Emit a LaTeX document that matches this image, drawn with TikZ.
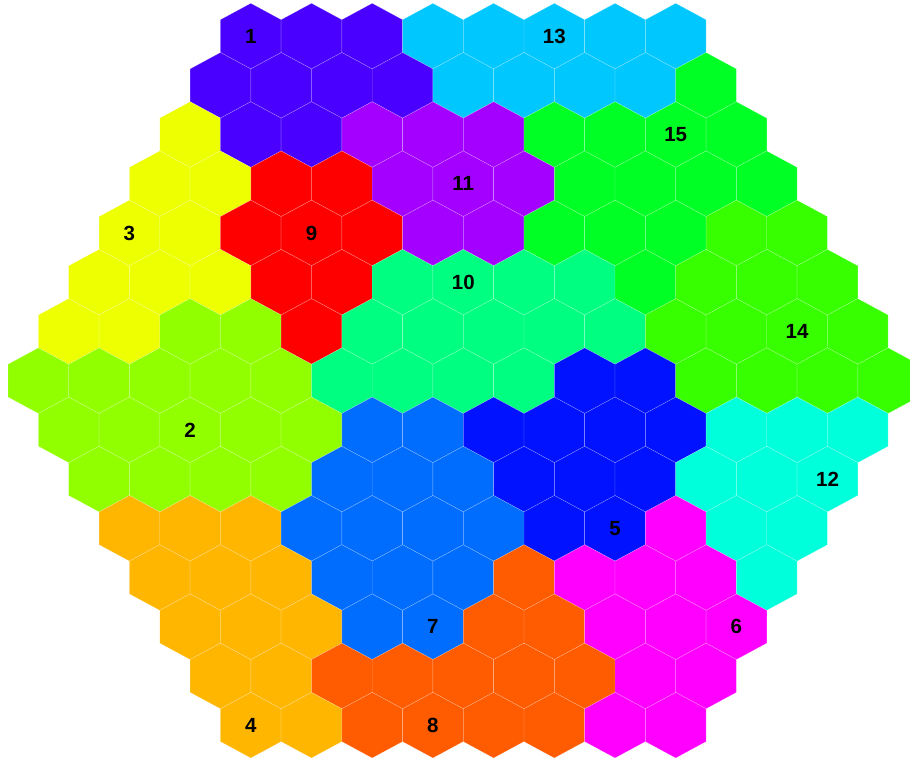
\documentclass[tikz,border=0pt]{standalone}
\usepackage{fontspec}
\setmainfont{Liberation Sans}
\definecolor{zone1}{HTML}{4900FF}
\definecolor{zone2}{HTML}{92FF00}
\definecolor{zone3}{HTML}{EDFF00}
\definecolor{zone4}{HTML}{FFB600}
\definecolor{zone5}{HTML}{0012FF}
\definecolor{zone6}{HTML}{FF00FF}
\definecolor{zone7}{HTML}{006DFF}
\definecolor{zone8}{HTML}{FF5B00}
\definecolor{zone9}{HTML}{FF0000}
\definecolor{zone10}{HTML}{00FF80}
\definecolor{zone11}{HTML}{A400FF}
\definecolor{zone12}{HTML}{00FFDB}
\definecolor{zone13}{HTML}{00C8FF}
\definecolor{zone14}{HTML}{37FF00}
\definecolor{zone15}{HTML}{00FF24}
\tikzset{
  cell/.style={draw=white, draw opacity=0.35, line width=0.4pt},
  zonelabel/.style={font=\fontsize{20.5}{24}\selectfont\bfseries, text=black, inner sep=0pt}
}
\begin{document}
\begin{tikzpicture}[x=1pt, y=-1pt]
\useasboundingbox (0,0) rectangle (910,760);
% hex cells, row by row
\foreach \row/\first/\zones in {
  0/7/{1,1,1,13,13,13,13,13},
  1/6/{1,1,1,1,13,13,13,13,15},
  2/5/{3,1,1,11,11,11,15,15,15,15},
  3/4/{3,3,9,9,11,11,11,15,15,15,15},
  4/3/{3,3,9,9,9,11,11,15,15,15,14,14},
  5/2/{3,3,3,9,9,10,10,10,10,15,14,14,14},
  6/1/{3,3,2,2,9,10,10,10,10,10,14,14,14,14},
  7/0/{2,2,2,2,2,10,10,10,10,5,5,14,14,14,14},
  8/1/{2,2,2,2,2,7,7,5,5,5,5,12,12,12},
  9/2/{2,2,2,2,7,7,7,5,5,5,12,12,12},
  10/3/{4,4,4,7,7,7,7,5,5,6,12,12},
  11/4/{4,4,4,7,7,7,8,6,6,6,12},
  12/5/{4,4,4,7,7,8,8,6,6,6},
  13/6/{4,4,8,8,8,8,8,6,6},
  14/7/{4,4,8,8,8,8,6,6}}{
  \foreach \z [count=\i from 0] in \zones {
    \pgfmathsetmacro{\cx}{38.35+30.35*(\first+2*\i)}
    \pgfmathsetmacro{\cy}{36.1+49.22*\row}
    \path[cell, fill=zone\z] (\cx,\cy) ++(0,-32.8) -- ++(30.35,16.4) -- ++(0,32.8)
      -- ++(-30.35,16.4) -- ++(-30.35,-16.4) -- ++(0,-32.8) -- cycle;
  }
}
% zone numbers
\node[zonelabel] (lab1) at (250.8,36.1) {1};
\node[zonelabel] (lab13) at (554.3,36.1) {13};
\node[zonelabel] (lab15) at (675.7,134.5) {15};
\node[zonelabel] (lab11) at (463.3,183.8) {11};
\node[zonelabel] (lab3) at (129.4,233.0) {3};
\node[zonelabel] (lab9) at (311.5,233.0) {9};
\node[zonelabel] (lab10) at (463.3,282.2) {10};
\node[zonelabel] (lab14) at (797.1,331.4) {14};
\node[zonelabel] (lab2) at (190.1,429.9) {2};
\node[zonelabel] (lab12) at (827.5,479.1) {12};
\node[zonelabel] (lab5) at (615.0,528.3) {5};
\node[zonelabel] (lab7) at (432.9,626.7) {7};
\node[zonelabel] (lab6) at (736.4,626.7) {6};
\node[zonelabel] (lab4) at (250.8,725.2) {4};
\node[zonelabel] (lab8) at (432.9,725.2) {8};
\end{tikzpicture}
\end{document}
